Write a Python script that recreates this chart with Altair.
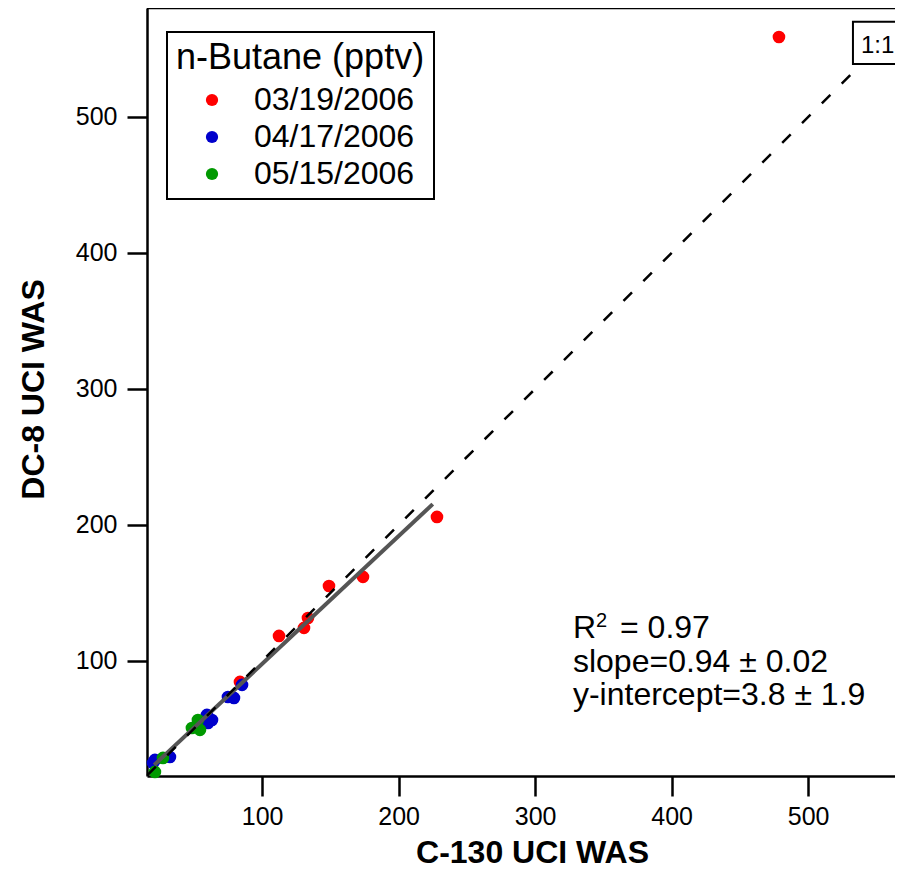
import altair as alt
import pandas as pd

# ---- data ----
dates = ["03/19/2006", "04/17/2006", "05/15/2006"]
colors = ["#ff0000", "#0000cc", "#009900"]

red_x = [478.6, 228.1, 173.9, 149.0, 133.6, 130.7, 112.4, 83.8]
red_y = [558.8, 205.9, 161.8, 155.1, 131.6, 124.3, 118.4, 84.6]
blue_x = [85.3, 75.0, 79.4, 59.6, 63.3, 60.4, 32.5, 21.5, 20.1]
blue_y = [82.4, 73.5, 72.8, 60.3, 56.6, 54.4, 29.4, 27.2, 25.0]
green_x = [53.0, 48.6, 54.5, 27.4, 21.5]
green_y = [56.6, 50.7, 49.3, 28.7, 18.4]

fit_slope = 0.94
fit_intercept = 3.8
fit_x_range = [21.0, 225.0]
one_to_one_range = [16.0, 533.0]

x_ticks = [100, 200, 300, 400, 500]
y_ticks = [100, 200, 300, 400, 500]
x_domain = [15.7, 563.6]
y_domain = [15.4, 580.1]

FONT = "Liberation Sans"
W, H = 748, 768

# ---- tables ----
pts = pd.DataFrame({
    "x": red_x + blue_x + green_x,
    "y": red_y + blue_y + green_y,
    "date": [dates[0]] * len(red_x) + [dates[1]] * len(blue_x) + [dates[2]] * len(green_x),
})
fit_df = pd.DataFrame({"x": fit_x_range,
                       "y": [fit_slope * v + fit_intercept for v in fit_x_range]})
one_df = pd.DataFrame({"x": one_to_one_range, "y": one_to_one_range})

xs = alt.Scale(domain=x_domain, nice=False, zero=False)
ys = alt.Scale(domain=y_domain, nice=False, zero=False)

X = alt.X("x:Q", scale=xs, title="C-130 UCI WAS",
          axis=alt.Axis(values=x_ticks, format="d", grid=False,
                        tickSize=20, tickWidth=2.5, tickColor="black",
                        domainColor="black", domainWidth=2.5,
                        labelFont=FONT, labelFontSize=25, labelColor="black",
                        labelPadding=8,
                        titleFont=FONT, titleFontSize=32, titleFontWeight="bold",
                        titleColor="black", titleX=385, titleY=86,
                        titleAlign="center", titleBaseline="alphabetic"))
Y = alt.Y("y:Q", scale=ys, title="DC-8 UCI WAS",
          axis=alt.Axis(values=y_ticks, format="d", grid=False,
                        tickSize=20, tickWidth=2.5, tickColor="black",
                        domainColor="black", domainWidth=2.5,
                        labelFont=FONT, labelFontSize=25, labelColor="black",
                        labelPadding=10,
                        titleFont=FONT, titleFontSize=32, titleFontWeight="bold",
                        titleColor="black", titleAngle=270, titleX=-104, titleY=381,
                        titleAlign="center", titleBaseline="alphabetic"))

points = alt.Chart(pts).mark_circle(size=160, opacity=1).encode(
    x=X, y=Y,
    color=alt.Color("date:N", scale=alt.Scale(domain=dates, range=colors),
                    legend=alt.Legend(title="n-Butane (pptv)", orient="none",
                                      legendX=20, legendY=24,
                                      strokeColor="black", fillColor="white",
                                      padding=9,
                                      titleFont=FONT, titleFontSize=36,
                                      titleFontWeight="normal", titleColor="black",
                                      titlePadding=7, titleLimit=500,
                                      labelFont=FONT, labelFontSize=32,
                                      labelColor="black", labelLimit=500,
                                      symbolType="circle", symbolSize=150,
                                      symbolStrokeWidth=0, symbolOffset=20,
                                      labelOffset=26, rowPadding=5)),
)

fit_line = alt.Chart(fit_df).mark_line(color="#555555", strokeWidth=4).encode(x=X, y=Y)
one_line = alt.Chart(one_df).mark_line(color="black", strokeWidth=2.5,
                                       strokeDash=[12, 16]).encode(x=X, y=Y)

top_border = alt.Chart(pd.DataFrame({"a": [0]})).mark_rule(
    color="black", strokeWidth=2.5).encode(
    x=alt.value(0), x2=alt.value(W), y=alt.value(0))

box_df = pd.DataFrame({"x": [532.8], "x2": [585.0], "y": [539.0], "y2": [570.0]})
box = alt.Chart(box_df).mark_rect(fill="white", stroke="black", strokeWidth=2).encode(
    x=X, x2="x2:Q", y=Y, y2="y2:Q")

lbl_df = pd.DataFrame({"x": [538.7], "y": [547.1], "t": ["1:1"]})
lbl = alt.Chart(lbl_df).mark_text(font=FONT, fontSize=24, align="left",
                                  baseline="alphabetic", color="black").encode(
    x=X, y=Y, text="t:N")

ann_main = pd.DataFrame({
    "x": [327.7, 362.2, 327.7, 327.7],
    "y": [116.9, 116.9, 91.9, 67.6],
    "t": ["R", "= 0.97", "slope=0.94 \u00b1 0.02", "y-intercept=3.8 \u00b1 1.9"],
})
ann = alt.Chart(ann_main).mark_text(font=FONT, fontSize=32, align="left",
                                    baseline="alphabetic", color="black").encode(
    x=X, y=Y, text="t:N")
sup = alt.Chart(pd.DataFrame({"x": [344.5], "y": [125.0], "t": ["2"]})).mark_text(
    font=FONT, fontSize=20, align="left", baseline="alphabetic", color="black").encode(
    x=X, y=Y, text="t:N")

chart = alt.layer(points, fit_line, one_line, box, lbl, ann, sup, top_border).properties(
    width=W, height=H,
    padding={"left": 139, "top": 0, "right": 0, "bottom": 94},
    autosize=alt.AutoSizeParams(type="none"),
    background="white",
).configure_view(stroke=None).configure_legend(strokeWidth=2)

chart.save("out.html", embed_options={"renderer": "svg", "actions": False})
